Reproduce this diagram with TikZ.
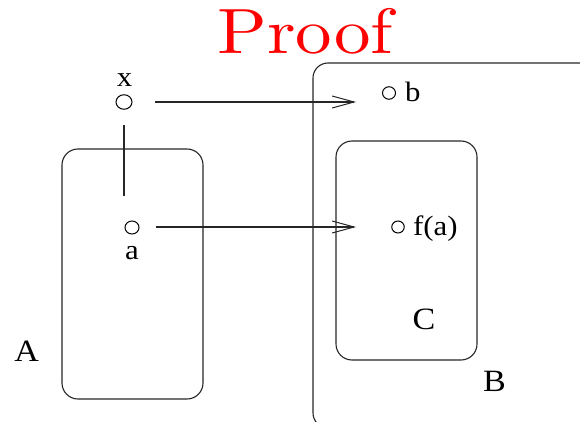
\documentclass[tikz,border=0pt]{standalone}
\usepackage{fontspec}
\setmainfont{Liberation Serif}
\newfontfamily\lmfont[Extension=.otf]{lmroman10-regular}
\usetikzlibrary{arrows.meta,shapes.geometric}
\begin{document}
\begin{tikzpicture}[x=1pt,y=-1pt,
  ln/.style={line width=1.1pt, draw=black!85},
  rbox/.style={ln, rounded corners=16pt},
  pt/.style={ellipse, draw=black, line width=1pt, inner sep=0pt},
  lbl/.style={inner sep=0pt, xscale=1.1, font=\fontsize{28}{30}\selectfont},
  big/.style={inner sep=0pt, xscale=1.1, font=\fontsize{31}{34}\selectfont},
  arr/.style={ln, -{Straight Barb[length=22pt,width=12pt,line width=1pt]}}]
\useasboundingbox (0,0) rectangle (580,422);
% title
\node[text=red, inner sep=0pt, xscale=1.14, font=\lmfont\fontsize{64}{70}\selectfont, anchor=base] (title) at (305.5,54) {Proof};
% boxes
\draw[rbox, rounded corners=15pt] (313,63) rectangle (600,428);
\draw[rbox] (62,149) rectangle (203,399);
\draw[rbox] (336,141) rectangle (477,360);
% points
\node[pt, minimum width=16pt, minimum height=14.5pt] (cx) at (124,102) {};
\node[pt, minimum width=14pt, minimum height=13pt] (ca) at (132,227.5) {};
\node[pt, minimum width=13pt, minimum height=12.5pt] (cb) at (389,93) {};
\node[pt, minimum width=12.5pt, minimum height=12pt] (cfa) at (398,227) {};
% labels
\node[lbl, anchor=base] (lx) at (124.5,87) {x};
\node[lbl, anchor=base] (la) at (132,259) {a};
\node[lbl, anchor=base west] (lb) at (405,101.5) {b};
\node[lbl, anchor=base west] (lfa) at (413,235) {f(a)};
\node[big, anchor=base] (lA) at (26.7,361.5) {A};
\node[big, anchor=base] (lB) at (494.5,391.5) {B};
\node[big, anchor=base] (lC) at (424,329.5) {C};
% connectors
\coordinate (v1) at (124,125);
\coordinate (v2) at (124,196);
\draw[ln] (v1) -- (v2);
\coordinate (s1) at (155,102);
\coordinate (t1) at (356,102);
\draw[arr] (s1) -- (t1);
\coordinate (s2) at (155.5,227);
\coordinate (t2) at (356,227);
\draw[arr] (s2) -- (t2);
\end{tikzpicture}
\end{document}
